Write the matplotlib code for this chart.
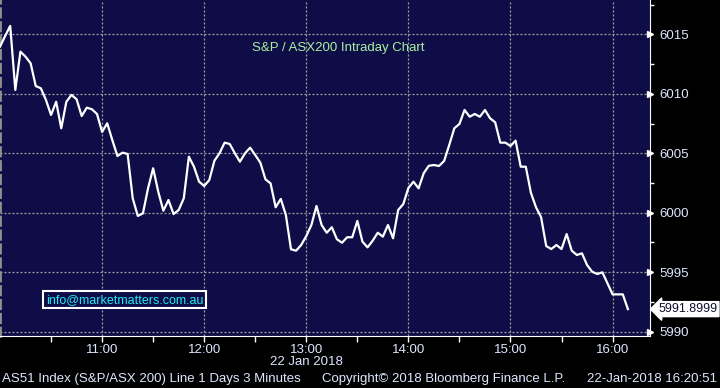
import numpy as np
import pandas as pd
import matplotlib
matplotlib.use('Agg')
import matplotlib.pyplot as plt
import matplotlib.dates as mdates

# S&P/ASX 200 intraday, 3 minute bars from 10:00
values = [6013.96, 6014.85, 6015.70, 6010.32, 6013.54, 6013.12, 6012.56, 6010.65,
          6010.46, 6009.48, 6008.22, 6009.33, 6007.10, 6009.33, 6009.90, 6009.54,
          6008.13, 6008.83, 6008.70, 6008.30, 6006.79, 6007.52, 6006.11, 6004.77,
          6005.05, 6004.94, 6001.21, 5999.73, 5999.95, 6002.05, 6003.74, 6001.77,
          6000.17, 6001.07, 5999.89, 6000.23, 6001.21, 6004.71, 6003.87, 6002.61,
          6002.25, 6002.75, 6004.37, 6005.00, 6005.89, 6005.78, 6005.00, 6004.29,
          6005.00, 6005.47, 6004.85, 6004.21, 6002.81, 6002.47, 6000.46, 6001.16,
          5999.81, 5996.93, 5996.81, 5997.29, 5998.04, 5998.97, 6000.57, 5998.97,
          5998.32, 5998.78, 5997.77, 5997.48, 5997.94, 5997.94, 5999.31, 5997.57,
          5997.09, 5997.65, 5998.32, 5997.99, 5998.97, 5997.85, 6000.23, 6000.73,
          6002.08, 6002.61, 6002.05, 6003.32, 6003.95, 6004.01, 6003.93, 6004.35,
          6005.69, 6007.10, 6007.46, 6008.64, 6008.07, 6008.30, 6008.07, 6008.64,
          6007.94, 6007.60, 6005.89, 6005.89, 6005.61, 6006.06, 6003.87, 6003.87,
          6001.68, 6000.46, 5999.62, 5997.20, 5996.95, 5997.29, 5996.95, 5998.21,
          5996.81, 5996.45, 5996.59, 5995.61, 5995.04, 5994.85, 5994.99, 5994.07,
          5993.14, 5993.14, 5993.14, 5991.8999]
times = pd.date_range('2018-01-22 10:00', periods=len(values), freq='3min')
y_major = [5990, 5995, 6000, 6005, 6010, 6015]
y_minor = [5992.5, 5997.5, 6002.5, 6007.5, 6012.5, 6017.5]
last_label = '5991.8999'

bg = '#0f0d47'
txt = '#dfe7ff'
font = 'Liberation Sans'

fig = plt.figure(figsize=(7.2, 3.88), dpi=100, facecolor='black')
ax = fig.add_axes([0, 0.134, 0.9028, 0.866], facecolor=bg)

ax.plot(times, values, color='white', lw=1.6, zorder=3)

ax.set_xlim(pd.Timestamp('2018-01-22 10:00'), pd.Timestamp('2018-01-22 16:22'))
ax.set_ylim(5989.64, 6017.88)

ax.xaxis.set_major_locator(mdates.HourLocator(byhour=range(11, 17)))
ax.xaxis.set_minor_locator(mdates.MinuteLocator(byminute=30))
ax.xaxis.set_major_formatter(mdates.DateFormatter('%H:%M'))
ax.tick_params(axis='x', which='both', direction='out', length=4, width=1,
               color='white', labelcolor=txt, labelsize=9.5, pad=1.5)

ax.yaxis.tick_right()
ax.set_yticks(y_major)
ax.set_yticks(y_minor, minor=True)
ax.tick_params(axis='y', which='major', length=0, labelcolor=txt, labelsize=9.5, pad=7)
ax.tick_params(axis='y', which='minor', direction='out', length=3, width=1, color='white')
for lab in ax.get_xticklabels() + ax.get_yticklabels():
    lab.set_fontfamily(font)

# arrow shaped major ticks on the right axis
ax.plot([1.0] * len(y_major), y_major, linestyle='none', marker='>', markersize=5,
        color='white', transform=ax.get_yaxis_transform(), clip_on=False, zorder=4)

ax.grid(True, which='major', color='#a0a0a0', linestyle=(0, (1.6, 1.6)), lw=0.9)

ax.spines['top'].set_visible(False)
ax.spines['bottom'].set_color('white')
ax.spines['right'].set_color('white')
ax.spines['left'].set_color('#909090')
ax.spines['left'].set_linestyle((0, (3, 2)))
ax.spines['left'].set_linewidth(2)

ax.annotate(last_label, xy=(1.0, values[-1]), xycoords=ax.get_yaxis_transform(),
            xytext=(6, 0), textcoords='offset points', va='center', ha='left',
            fontsize=9, family=font, color='#101030', annotation_clip=False,
            bbox=dict(boxstyle='larrow,pad=0.12', fc='white', ec='white'))

ax.text(0.521, 0.857, 'S&P / ASX200 Intraday Chart', transform=ax.transAxes,
        ha='center', va='center', color='#a8f0a0', fontsize=9.5, family=font)
ax.text(0.1915, 0.108, 'info@marketmatters.com.au', transform=ax.transAxes,
        ha='center', va='center', color='#20e8f0', fontsize=9, family=font,
        bbox=dict(boxstyle='square,pad=0.2', fc=bg, ec='white', lw=1.5))

fig.text(0.426, 0.067, '22 Jan 2018', ha='center', va='center', color=txt,
         fontsize=9.5, family=font)
fig.text(0.003, 0.0224, 'AS51 Index (S&P/ASX 200) Line 1 Days 3 Minutes', ha='left',
         va='center', color=txt, fontsize=9.5, family=font)
fig.text(0.447, 0.0224, 'Copyright\u00a9 2018 Bloomberg Finance L.P.', ha='left',
         va='center', color=txt, fontsize=9.5, family=font)
fig.text(0.996, 0.0224, '22-Jan-2018 16:20:51', ha='right', va='center', color=txt,
         fontsize=9.5, family=font)

fig.savefig('out.png', dpi=100, facecolor='black')
